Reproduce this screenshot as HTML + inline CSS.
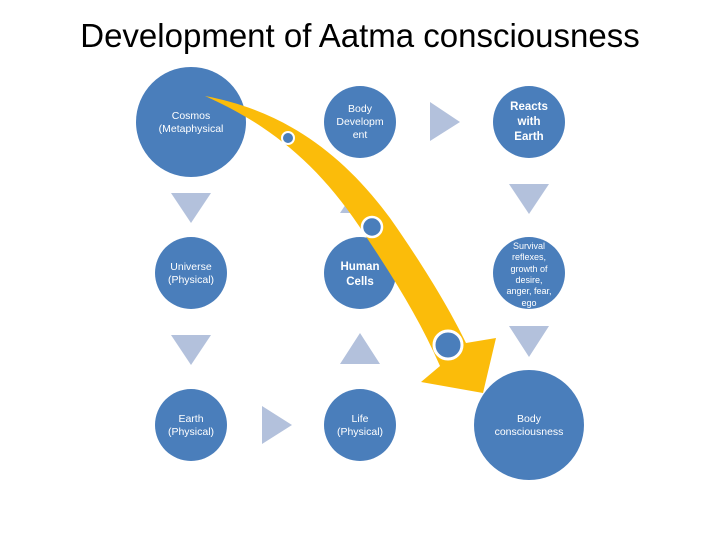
<!DOCTYPE html>
<html><head><meta charset="utf-8"><style>
body{margin:0;width:720px;height:540px;background:#fff;overflow:hidden}
svg{display:block}
text{font-family:"Liberation Sans",sans-serif;fill:#fff;text-anchor:middle}
</style></head><body>
<svg width="720" height="540" viewBox="0 0 720 540">
<text x="360" y="47" style="fill:#000;font-size:33px">Development of Aatma consciousness</text>
<g fill="#4a7ebb">
<circle cx="191" cy="122" r="55"/>
<circle cx="360" cy="122" r="36"/>
<circle cx="529" cy="122" r="36"/>
<circle cx="191" cy="273" r="36"/>
<circle cx="360" cy="273" r="36"/>
<circle cx="529" cy="273" r="36"/>
<circle cx="191" cy="425" r="36"/>
<circle cx="360" cy="425" r="36"/>
<circle cx="529" cy="425" r="55"/>
</g>
<g fill="#b3c1dc">
<polygon points="171,193 211,193 191,223"/>
<polygon points="171,335 211,335 191,365"/>
<polygon points="262,406 262,444 292,425"/>
<polygon points="340,364 380,364 360,333"/>
<polygon points="340,213 380,213 360,183"/>
<polygon points="430,102 430,141 460,122"/>
<polygon points="509,184 549,184 529,214"/>
<polygon points="509,326 549,326 529,357"/>
</g>
<g font-size="10.5">
<text x="191" y="119">Cosmos</text><text x="191" y="132">(Metaphysical</text>
<text x="360" y="112">Body</text><text x="360" y="125">Developm</text><text x="360" y="138">ent</text>
<text x="529" y="110" font-weight="bold" font-size="11.5">Reacts</text><text x="529" y="125" font-weight="bold" font-size="11.5">with</text><text x="529" y="140" font-weight="bold" font-size="11.5">Earth</text>
<text x="191" y="270">Universe</text><text x="191" y="283">(Physical)</text>
<text x="360" y="270" font-weight="bold" font-size="11.5">Human</text><text x="360" y="285" font-weight="bold" font-size="11.5">Cells</text>
<g font-size="9"><text x="529" y="249">Survival</text><text x="529" y="260">reflexes,</text><text x="529" y="272">growth of</text><text x="529" y="283">desire,</text><text x="529" y="294">anger, fear,</text><text x="529" y="306">ego</text></g>
<text x="191" y="422">Earth</text><text x="191" y="435">(Physical)</text>
<text x="360" y="422">Life</text><text x="360" y="435">(Physical)</text>
<text x="529" y="422">Body</text><text x="529" y="435">consciousness</text>
</g>
<path fill="#fbbc0a" d="M205,96 C280,110 340,150 390,218 C425,268 450,310 466,343 L496,338 L483,393 L421,382 L440,366 C420,320 395,280 365,235 C320,165 270,125 205,96 Z"/>
<g fill="#4a7ebb" stroke="#fff">
<circle cx="288" cy="138" r="6" stroke-width="2"/>
<circle cx="372" cy="227" r="10" stroke-width="2.5"/>
<circle cx="448" cy="345" r="14" stroke-width="3"/>
</g>
</svg>
</body></html>
